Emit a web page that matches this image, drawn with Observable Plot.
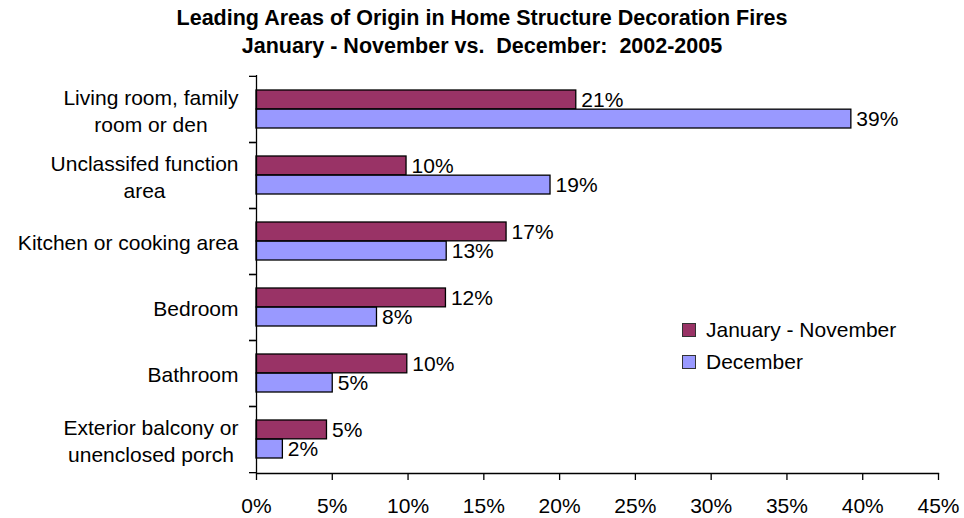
<!DOCTYPE html>
<html>
<head>
<meta charset="utf-8">
<script src="https://cdn.jsdelivr.net/npm/d3@7"></script>
<script src="https://cdn.jsdelivr.net/npm/@observablehq/plot@0.6"></script>
<style>
  html, body { margin: 0; padding: 0; background: #fff; }
  #wrap { position: relative; width: 964px; height: 518px; font-family: "Liberation Sans", Arial, sans-serif; color: #000; }
  #title { height: 60px; box-sizing: border-box; padding-top: 4px; text-align: center; font-weight: bold; font-size: 21.5px; line-height: 28px; white-space: pre; }
  #chart svg { display: block; }
  .leg { position: absolute; left: 682px; font-size: 21px; line-height: 28px; height: 28px; display: flex; align-items: center; white-space: nowrap; }
  .sw { width: 12px; height: 12px; border: 1px solid #333; margin-right: 10px; }
</style>
</head>
<body>
<div id="wrap">
  <div id="title">Leading Areas of Origin in Home Structure Decoration Fires
January - November vs.  December:  2002-2005</div>
  <div id="chart"></div>
</div>
<script>
const categories = [
  "Living room, family room or den",
  "Unclassifed function area",
  "Kitchen or cooking area",
  "Bedroom",
  "Bathroom",
  "Exterior balcony or unenclosed porch"
];
const categoryLines = [
  "Living room, family\nroom or den",
  "Unclassifed function\narea",
  "Kitchen or cooking area",
  "Bedroom",
  "Bathroom",
  "Exterior balcony or\nunenclosed porch"
];
const seriesNames = ["January - November", "December"];
const seriesColors = ["#993366", "#9999FF"];
const janNov = [21.1, 9.9, 16.5, 12.5, 9.95, 4.65];
const december = [39.25, 19.4, 12.55, 7.95, 5.03, 1.74];
const janNovLabels = ["21%", "10%", "17%", "12%", "10%", "5%"];
const decemberLabels = ["39%", "19%", "13%", "8%", "5%", "2%"];
const xTicks = [0, 5, 10, 15, 20, 25, 30, 35, 40, 45];

const FONT = "'Liberation Sans', Arial, sans-serif";
const rows = categories.map((c, i) => ({
  category: c, lines: categoryLines[i],
  janNov: janNov[i], dec: december[i],
  janNovLabel: janNovLabels[i], decLabel: decemberLabels[i]
}));

const canvas = document.createElement("canvas");
const ctx = canvas.getContext("2d");
ctx.font = "21px " + FONT;
function blockWidth(s) { return Math.max(...s.split("\n").map(l => ctx.measureText(l).width)); }

const band = (518 - 60 - 15 - 45) / categories.length;
const half = band / 2;
const barTop = 14;
const mid = half;
const janCenter = (barTop + mid) / 2 - half;
const decCenter = (mid + (band - barTop)) / 2 - half;

const labelMarks = rows.map(r => Plot.text([r], {
  y: "category", text: "lines", frameAnchor: "left", textAnchor: "middle",
  dx: -(18 + blockWidth(r.lines) / 2), lineHeight: 1.3, fill: "#000"
}));

const chart = Plot.plot({
  width: 964, height: 458,
  marginTop: 15, marginBottom: 45, marginLeft: 256, marginRight: 26,
  style: { fontFamily: FONT, fontSize: "21px", color: "#000", background: "#fff" },
  x: { domain: [0, 45], label: null },
  y: { domain: categories, padding: 0, label: null },
  marks: [
    Plot.barX(rows, { y: "category", x: "janNov", fill: seriesColors[0], stroke: "#000", strokeWidth: 1.3, insetTop: barTop, insetBottom: band - mid }),
    Plot.barX(rows, { y: "category", x: "dec", fill: seriesColors[1], stroke: "#000", strokeWidth: 1.3, insetTop: mid, insetBottom: barTop }),
    Plot.text(rows, { y: "category", x: "janNov", text: "janNovLabel", textAnchor: "start", dx: 5, dy: janCenter, fill: "#000" }),
    Plot.text(rows, { y: "category", x: "dec", text: "decLabel", textAnchor: "start", dx: 5, dy: decCenter, fill: "#000" }),
    Plot.ruleX([0], { stroke: "#000", strokeWidth: 1.3 }),
    Plot.frame({ anchor: "bottom", stroke: "#000", strokeWidth: 1.3 }),
    Plot.axisY({ tickSize: 7, tickFormat: () => "", label: null, dy: -half, stroke: "#000", strokeWidth: 1.3 }),
    Plot.axisY({ tickSize: 7, tickFormat: () => "", label: null, dy: half, stroke: "#000", strokeWidth: 1.3 }),
    Plot.axisX({ ticks: xTicks, tickSize: 7, tickPadding: 18, label: null, tickFormat: d => d + "%", stroke: "#000", strokeWidth: 1.3, fill: "#000" }),
    ...labelMarks
  ]
});
document.getElementById("chart").appendChild(chart);

const wrap = document.getElementById("wrap");
const legendTops = [316, 348];
seriesNames.forEach((name, i) => {
  const d = document.createElement("div");
  d.className = "leg";
  d.style.top = legendTops[i] + "px";
  const s = document.createElement("span");
  s.className = "sw";
  s.style.background = seriesColors[i];
  d.appendChild(s);
  d.appendChild(document.createTextNode(name));
  wrap.appendChild(d);
});
</script>
</body>
</html>
